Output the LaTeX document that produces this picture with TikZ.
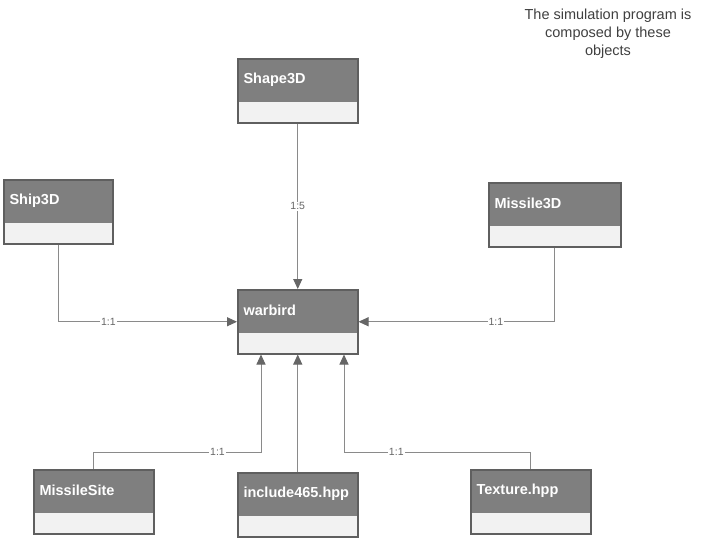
\documentclass[tikz,border=0pt]{standalone}
\usepackage{fontspec}
\setmainfont{Liberation Sans}
\usetikzlibrary{arrows.meta}

\definecolor{headfill}{HTML}{7F7F7F}
\definecolor{bodyfill}{HTML}{F2F2F2}
\definecolor{boxline}{HTML}{5F5F5F}
\definecolor{linkgray}{HTML}{8A8A8A}
\definecolor{tipgray}{HTML}{666666}

\begin{document}
\begin{tikzpicture}[x=1pt, y=-1pt,
  classbox/.style = {draw=boxline, line width=1.5pt, fill=bodyfill,
    minimum height=64pt, inner sep=0pt, anchor=north west,
    path picture={\fill[headfill] (path picture bounding box.north west)
      rectangle ([yshift=21pt]path picture bounding box.south east);}},
  classname/.style = {anchor=west, text=white, xshift=3pt, yshift=-21.5pt,
    font=\fontsize{14.5}{17}\selectfont\bfseries},
  link/.style = {draw=linkgray, line width=1pt,
    -{Triangle[length=10pt, width=9pt, color=tipgray]}},
  lbl/.style = {fill=white, text=tipgray, inner sep=1pt,
    font=\fontsize{10.5}{12}\selectfont},
  note/.style = {align=center, text=black!75,
    font=\fontsize{14.5}{18}\selectfont}]
  \useasboundingbox (0,0) rectangle (708,538);

  \node[note] (caption) at (608,34) {The simulation program is\\composed by these\\objects};

  % classes
  \node[classbox, minimum width=120pt, label={[classname]north west:Shape3D}] (shape3d) at (237,58) {};
  \node[classbox, minimum width=109pt, label={[classname]north west:Ship3D}] (ship3d) at (3,179) {};
  \node[classbox, minimum width=132pt, label={[classname]north west:Missile3D}] (missile3d) at (488,182) {};
  \node[classbox, minimum width=120pt, label={[classname]north west:warbird}] (warbird) at (237,289) {};
  \node[classbox, minimum width=120pt, label={[classname]north west:MissileSite}] (missilesite) at (33,469) {};
  \node[classbox, minimum width=120pt, label={[classname]north west:include465.hpp}] (include) at (237,472) {};
  \node[classbox, minimum width=120pt, label={[classname]north west:Texture.hpp}] (texture) at (470,469) {};

  \coordinate (ms-bend) at (261,452);
  \coordinate (tx-bend) at (344,452);

  % connectors
  \draw[link] (shape3d.south) -- node[lbl]{1:5} (warbird.north);
  \draw[link] (ship3d.south) |- node[lbl, pos=0.64]{1:1} (warbird.west);
  \draw[link] (missile3d.south) |- node[lbl, pos=0.65]{1:1} (warbird.east);
  \draw[link] (missilesite.north) |- node[lbl, pos=0.87]{1:1} (ms-bend) -- (ms-bend |- warbird.south);
  \draw[link] (include.north) -- (warbird.south);
  \draw[link] (texture.north) |- node[lbl, pos=0.86]{1:1} (tx-bend) -- (tx-bend |- warbird.south);
\end{tikzpicture}
\end{document}
